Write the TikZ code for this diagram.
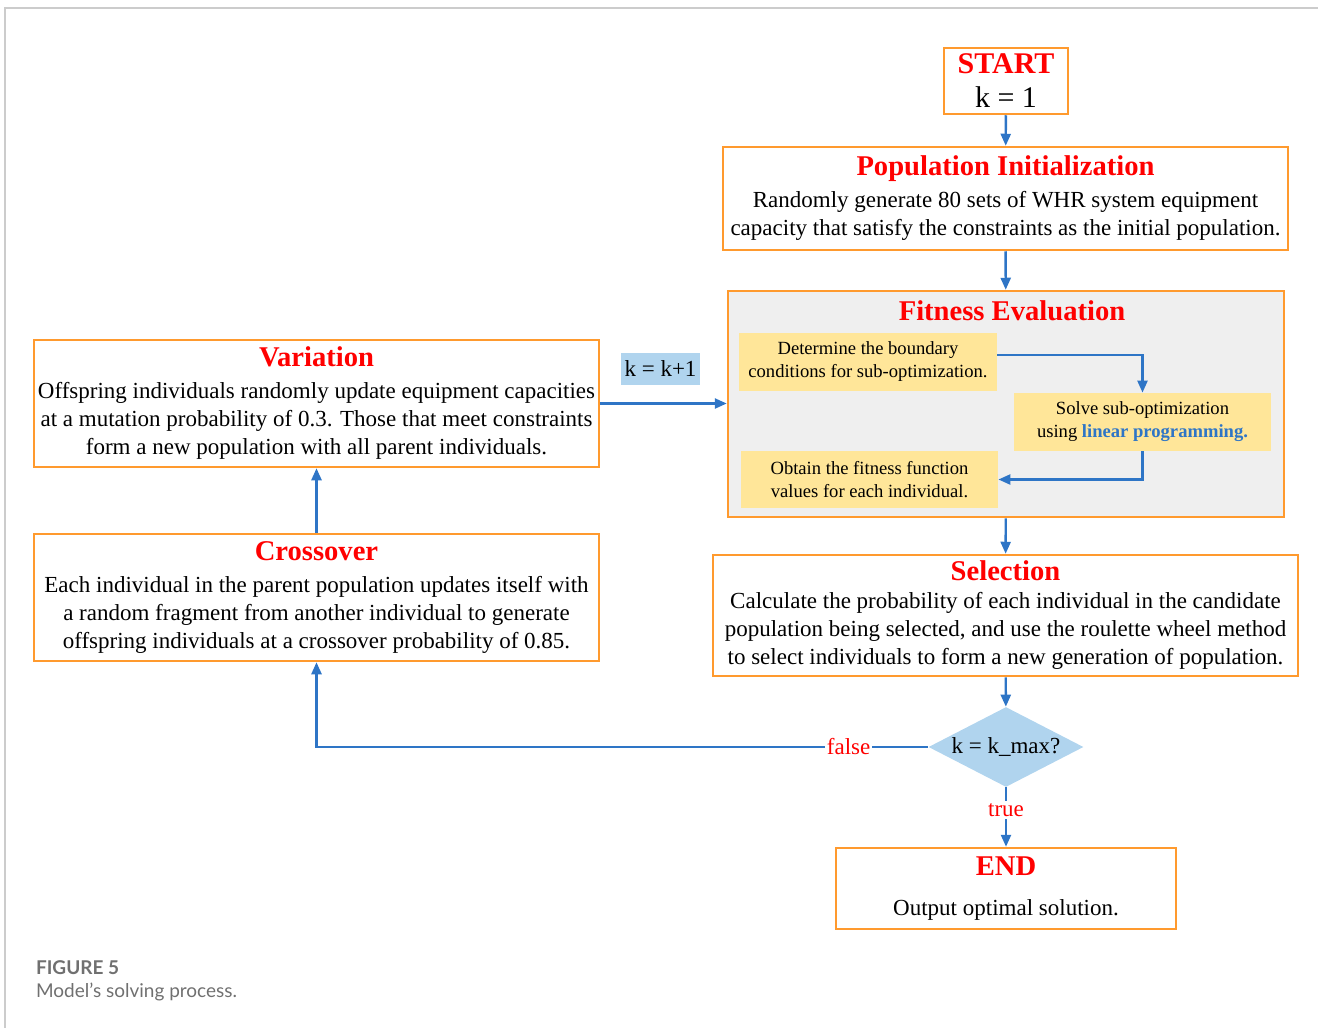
\documentclass[tikz,border=0pt]{standalone}
\usepackage{fontspec}
\setmainfont{Liberation Serif}
\newfontfamily\capfont{Lato}
\usetikzlibrary{arrows.meta,shapes.geometric}
\definecolor{boxorange}{HTML}{FF9A2E}
\definecolor{flowblue}{HTML}{2E75C6}
\definecolor{diablue}{HTML}{B0D4EE}
\definecolor{subyellow}{HTML}{FFE699}
\definecolor{fitgray}{HTML}{EFEFEF}
\definecolor{capgray}{HTML}{707070}
\definecolor{framegray}{HTML}{CCCCCC}
\newcommand{\steptitle}[1]{\textcolor{red}{\bfseries\fontsize{14.3}{16}\selectfont #1}}

\begin{document}
\begin{tikzpicture}[x=0.5pt,y=-0.5pt,
  stepbox/.style={rectangle, draw=boxorange, line width=1.25pt, fill=white, align=center, inner sep=0pt, font=\fontsize{11.5}{14}\selectfont},
  subbox/.style={rectangle, fill=subyellow, align=center, inner sep=0pt, font=\fontsize{9.3}{11.5}\selectfont},
  flow/.style={draw=flowblue, line width=1.2pt, -{Triangle[width=5pt,length=6pt]}},
  lbl/.style={fill=white, text=red, inner sep=1pt, font=\fontsize{11.5}{13}\selectfont}]
  \useasboundingbox (0,0) rectangle (1318,1028);
  \draw[framegray, line width=0.8pt] (1318,8) -- (5,8) -- (5,1028);

  % right column
  \node[stepbox, minimum width=62pt, minimum height=33pt, font=\fontsize{15}{17}\selectfont] (start) at (1006,81) {\textcolor{red}{\bfseries START}\\k = 1};
  \node[stepbox, minimum width=282.5pt, minimum height=51.5pt] (pop) at (1005.5,198.5) {\steptitle{Population Initialization}\\[2pt]
    Randomly generate 80 sets of WHR system equipment\\
    capacity that satisfy the constraints as the initial population.};

  \node[stepbox, fill=fitgray, minimum width=278pt, minimum height=113pt] (fit) at (1006,404) {};
  \node (fittitle) at (1012,311) {\steptitle{Fitness Evaluation}};
  \node[subbox, minimum width=129pt, minimum height=29pt] (det) at (868,362) {Determine the boundary\\conditions for sub-optimization.};
  \node[subbox, minimum width=128.5pt, minimum height=29pt] (solve) at (1142.5,422) {Solve sub-optimization\\using \textcolor{flowblue}{\bfseries linear programming.}};
  \node[subbox, minimum width=128.5pt, minimum height=28.5pt] (obtain) at (869.5,479.5) {Obtain the fitness function\\values for each individual.};

  \node[stepbox, minimum width=292.5pt, minimum height=60.5pt] (sel) at (1005.5,615.5) {\steptitle{Selection}\\
    Calculate the probability of each individual in the candidate\\
    population being selected, and use the roulette wheel method\\
    to select individuals to form a new generation of population.};
  \node[diamond, fill=diablue, aspect=2, inner sep=0pt, minimum width=77.5pt, minimum height=40pt, font=\fontsize{11.5}{13}\selectfont] (dia) at (1006,747) {k = k\_max?};
  \node[stepbox, minimum width=170pt, minimum height=40.5pt] (end) at (1006,888.5) {\steptitle{END}\\[6pt] Output optimal solution.};

  % left column
  \node[stepbox, minimum width=282.5pt, minimum height=63.5pt] (var) at (316.5,403.5) {\steptitle{Variation}\\[2pt]
    Offspring individuals randomly update equipment capacities\\
    at a mutation probability of 0.3. Those that meet constraints\\
    form a new population with all parent individuals.};
  \node[stepbox, minimum width=282.5pt, minimum height=63.5pt] (cro) at (316.5,597.5) {\steptitle{Crossover}\\[2pt]
    Each individual in the parent population updates itself with\\
    a random fragment from another individual to generate\\
    offspring individuals at a crossover probability of 0.85.};
  \node[fill=diablue, minimum width=39.5pt, minimum height=16pt, inner sep=0pt, font=\fontsize{11.5}{13}\selectfont] (kk) at (660.5,369) {k = k+1};

  % connectors
  \draw[flow] (start) -- (pop);
  \draw[flow] (pop) -- (fit);
  \draw[flow] ([yshift=3.5pt]det.east) -| (solve.north);
  \draw[flow] (solve.south) |- (obtain.east);
  \draw[flow] (fit) -- (sel);
  \draw[flow] (sel) -- (dia);
  \draw[flow] (dia) -- node[lbl, pos=0.38]{true} (end);
  \draw[flow] (dia.west) -- node[lbl, pos=0.13]{false} (dia.west -| cro.south) -- (cro.south);
  \draw[flow] (cro) -- (var);
  \draw[flow] (var.east) -- (fit.west |- var.east);

  % caption
  \node[anchor=west, text=capgray, font=\capfont\bfseries\fontsize{9.5}{11}\selectfont] (figno) at (29,968) {FIGURE 5};
  \node[anchor=west, text=capgray, font=\capfont\fontsize{9.5}{11}\selectfont] (figcap) at (29,992) {Model’s solving process.};
\end{tikzpicture}
\end{document}
